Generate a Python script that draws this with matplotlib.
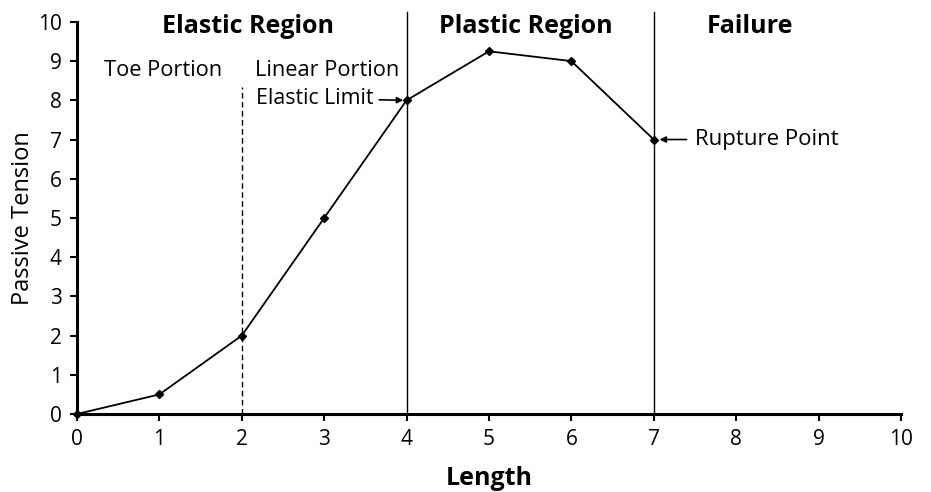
import matplotlib
matplotlib.use("Agg")
import matplotlib.pyplot as plt

length = [0, 1, 2, 3, 4, 5, 6, 7]
tension = [0, 0.5, 2, 5, 8, 9.25, 9, 7]
x_ticks = list(range(0, 11))
y_ticks = list(range(0, 11))
boundaries = [4, 7]
toe_boundary = 2

plt.rcParams['font.family'] = ['Open Sans', 'DejaVu Sans']

fig = plt.figure(figsize=(9.31, 4.92), dpi=100)
ax = fig.add_axes([0.0827, 0.1585, 0.885, 0.797])

ax.plot(length, tension, color='black', lw=1.3, marker='D', ms=4, clip_on=False, zorder=3)

for b in boundaries:
    ax.plot([b, b], [0, 10.25], color='black', lw=1.0, clip_on=False)
ax.plot([toe_boundary, toe_boundary], [0, 8.35], color='black', lw=1.0, ls=(0, (4, 2.5)))

ax.set_xlim(0, 10)
ax.set_ylim(0, 10)
ax.set_xticks(x_ticks)
ax.set_yticks(y_ticks)
ax.spines['top'].set_visible(False)
ax.spines['right'].set_visible(False)
ax.spines['left'].set_linewidth(2.2)
ax.spines['bottom'].set_linewidth(2.2)
ax.tick_params(axis='both', direction='out', length=5, width=1.5, labelsize=15, pad=6, colors='black')

ax.set_xlabel('Length', fontsize=18, fontweight='bold', labelpad=11)
ax.set_ylabel('Passive Tension', fontsize=17, labelpad=2)

ax.text(2.07, 9.88, 'Elastic Region', fontsize=18, fontweight='bold', ha='center', va='center')
ax.text(5.45, 9.88, 'Plastic Region', fontsize=18, fontweight='bold', ha='center', va='center')
ax.text(8.17, 9.88, 'Failure', fontsize=18, fontweight='bold', ha='center', va='center')
ax.text(1.05, 8.75, 'Toe Portion', fontsize=15.7, ha='center', va='center')
ax.text(3.03, 8.75, 'Linear Portion', fontsize=15.7, ha='center', va='center')

ax.annotate('Elastic Limit', xy=(3.96, 8.0), xytext=(3.6, 8.05), fontsize=15.3,
            ha='right', va='center',
            arrowprops=dict(arrowstyle='-|>', color='black', lw=1.2, shrinkA=2, shrinkB=0,
                            mutation_scale=9))
ax.annotate('Rupture Point', xy=(7.07, 7.0), xytext=(7.5, 7.0), fontsize=16,
            ha='left', va='center',
            arrowprops=dict(arrowstyle='-|>', color='black', lw=1.2, shrinkA=4, shrinkB=0,
                            mutation_scale=9))

fig.savefig('out.png', dpi=100)
